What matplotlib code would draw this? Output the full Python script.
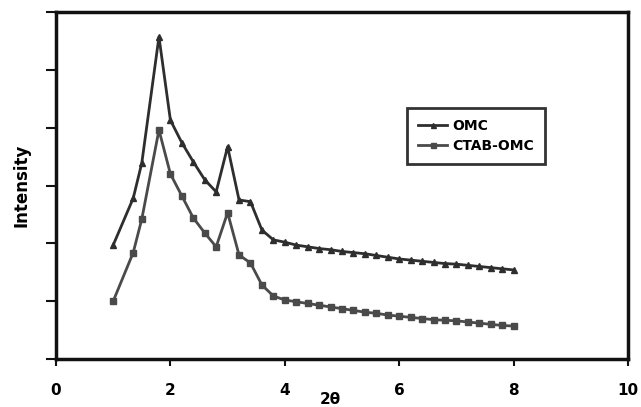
import matplotlib
matplotlib.use("Agg")
import matplotlib.pyplot as plt
import numpy as np

plt.rcParams['font.family'] = ['DejaVu Sans']
plt.rcParams['font.weight'] = 'bold'

x_vals = [1.0, 1.35, 1.5, 1.8, 2.0, 2.2, 2.4, 2.6, 2.8, 3.0, 3.2, 3.4, 3.6, 3.8,
          4.0, 4.2, 4.4, 4.6, 4.8, 5.0, 5.2, 5.4, 5.6, 5.8, 6.0, 6.2, 6.4, 6.6,
          6.8, 7.0, 7.2, 7.4, 7.6, 7.8, 8.0]
omc = [1.97, 2.78, 3.39, 5.57, 4.13, 3.74, 3.41, 3.10, 2.89, 3.67, 2.75, 2.72, 2.23, 2.06,
       2.02, 1.97, 1.94, 1.91, 1.89, 1.86, 1.84, 1.82, 1.79, 1.76, 1.73, 1.71, 1.69, 1.67,
       1.65, 1.64, 1.62, 1.60, 1.58, 1.56, 1.54]
ctab = [1.00, 1.84, 2.42, 3.96, 3.20, 2.82, 2.44, 2.18, 1.94, 2.53, 1.80, 1.66, 1.28, 1.09,
        1.02, 0.99, 0.96, 0.93, 0.90, 0.87, 0.84, 0.81, 0.79, 0.76, 0.74, 0.72, 0.70, 0.68,
        0.67, 0.66, 0.64, 0.62, 0.60, 0.58, 0.57]
labels = ["OMC", "CTAB-OMC"]
x_ticks = [0, 2, 4, 6, 8, 10]

fig = plt.figure(figsize=(6.41, 4.07), dpi=100)
ax = fig.add_axes([56/641, 1-359/407, (628-56)/641, (359-12)/407])

ax.plot(x_vals, omc, color='#2e2e2e', lw=2.0, marker='^', ms=4, label=labels[0])
ax.plot(x_vals, ctab, color='#4a4a4a', lw=2.0, marker='s', ms=4, label=labels[1])

ax.set_xlim(0, 10)
ax.set_ylim(0, 6)
ax.set_xticks(x_ticks)
ax.set_xticklabels([str(t) for t in x_ticks], fontsize=11, fontweight='bold')
ax.set_yticks(np.arange(0, 7, 1))
ax.set_yticklabels([])
for s in ax.spines.values():
    s.set_linewidth(2.5)
    s.set_color('#111111')
ax.tick_params(axis='y', direction='out', length=7, width=1.5, color='#111111')
ax.tick_params(axis='x', direction='out', length=5, width=1.5, color='#111111', pad=12)

ax.set_ylabel("Intensity", fontsize=12, fontweight='bold', labelpad=8)
fig.text(330/641, 1-400/407, "2θ", fontsize=11, fontweight='bold', ha='center', va='center')

leg = ax.legend(loc='upper left', bbox_to_anchor=((407-56)/572, 1-(108-12)/347),
                frameon=True, fancybox=False, fontsize=10, handlelength=2.1,
                handletextpad=0.35, borderpad=0.8, labelspacing=0.45, markerscale=0.9,
                borderaxespad=0)
leg.get_frame().set_edgecolor('black')
leg.get_frame().set_linewidth(2)
for t in leg.get_texts():
    t.set_fontweight('bold')

fig.savefig("out.png", dpi=100)
